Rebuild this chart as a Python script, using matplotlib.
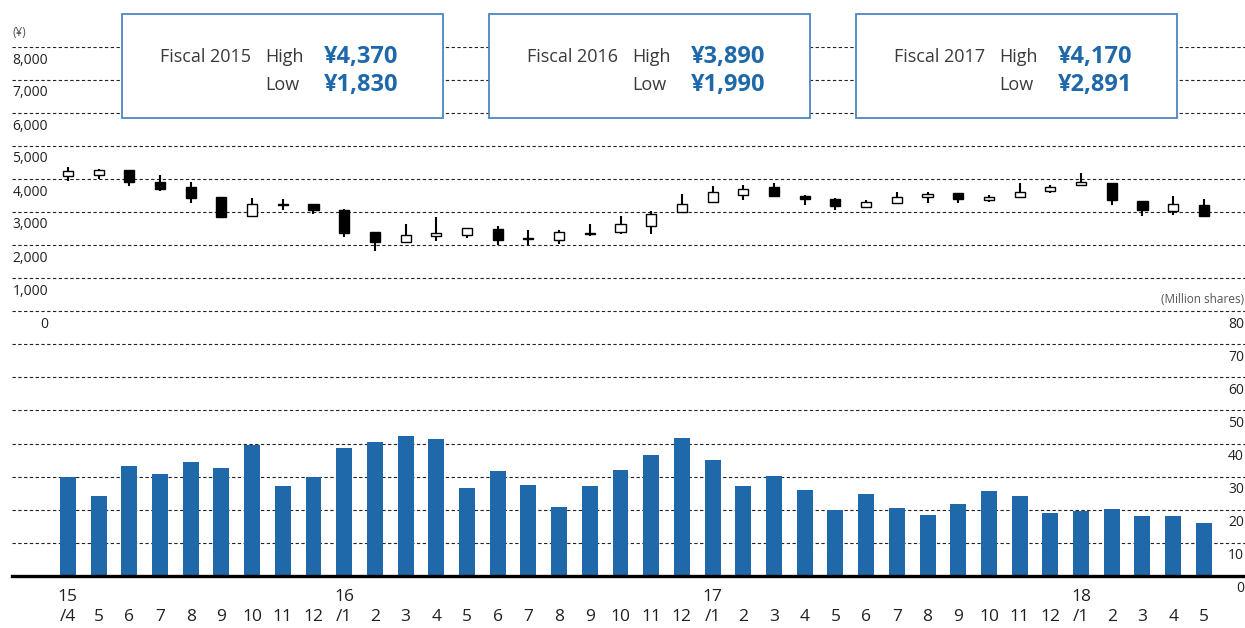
import matplotlib.pyplot as plt
from matplotlib.patches import Rectangle
from matplotlib.transforms import blended_transform_factory, ScaledTranslation
import numpy as np

plt.rcParams['font.family'] = ['Open Sans', 'DejaVu Sans']

# months 2015/4 - 2018/5
months = ['/4', '5', '6', '7', '8', '9', '10', '11', '12',
          '/1', '2', '3', '4', '5', '6', '7', '8', '9', '10', '11', '12',
          '/1', '2', '3', '4', '5', '6', '7', '8', '9', '10', '11', '12',
          '/1', '2', '3', '4', '5']
years = {0: '15', 9: '16', 21: '17', 33: '18'}

# stock price (yen)
open_ = [4090, 4110, 4260, 3900, 3750, 3440, 2884, 3220, 3236,
         3055, 2382, 2100, 2281, 2312, 2493, 2186, 2151, 2342, 2382, 2563, 3015,
         3296, 3508, 3749, 3487, 3407, 3166, 3286, 3457, 3578, 3377, 3467, 3638,
         3809, 3889, 3347, 3025, 3226]
high = [4370, 4300, 4260, 4130, 3920, 3460, 3437, 3407, 3256,
        3106, 2382, 2623, 2834, 2523, 2583, 2442, 2442, 2623, 2884, 3035, 3558,
        3799, 3829, 3890, 3528, 3427, 3367, 3618, 3598, 3578, 3528, 3889, 3829,
        4170, 3889, 3347, 3498, 3407]
low = [3930, 4000, 3780, 3630, 3280, 2850, 2880, 3075, 2935,
       2231, 1830, 2060, 2121, 2221, 1990, 2000, 2020, 2271, 2332, 2332, 3005,
       3296, 3377, 3487, 3206, 3055, 3156, 3276, 3266, 3266, 3296, 3437, 3568,
       3809, 3206, 2891, 2905, 2844]
close = [4230, 4270, 3910, 3710, 3410, 2860, 3256, 3232, 3055,
         2352, 2100, 2291, 2372, 2523, 2161, 2196, 2402, 2362, 2643, 2945, 3256,
         3608, 3709, 3487, 3407, 3176, 3307, 3447, 3548, 3397, 3457, 3608, 3759,
         3920, 3357, 3055, 3256, 2864]

# trading volume (million shares)
volume = [29.8, 24.1, 33.1, 30.7, 34.3, 32.5, 39.6, 27.1, 29.8,
          38.6, 40.4, 42.2, 41.3, 26.5, 31.6, 27.4, 20.8, 27.1, 31.9, 36.4, 41.6,
          34.9, 27.1, 30.1, 25.9, 19.9, 24.7, 20.5, 18.4, 21.7, 25.6, 24.1, 19.0,
          19.6, 20.2, 18.1, 18.1, 16.0]

fiscal = ['Fiscal 2015', 'Fiscal 2016', 'Fiscal 2017']
fy_high = ['¥4,370', '¥3,890', '¥4,170']
fy_low = ['¥1,830', '¥1,990', '¥2,891']

W, H = 1245, 628
fig = plt.figure(figsize=(W / 100, H / 100), dpi=100)

def px_axes(x0, y0, x1, y1):
    a = fig.add_axes([x0 / W, 1 - y1 / H, (x1 - x0) / W, (y1 - y0) / H])
    a.patch.set_visible(False)
    return a

ax_c = px_axes(12, 47, 1245, 311)
ax_v = px_axes(12, 311, 1245, 576)

x = np.arange(len(months))
xlim = (-1.82, 38.34)
grid_kw = dict(color='#222222', lw=0.8, linestyle=(0, (3, 2.2)))
label_col = '#231f20'

# candlesticks
o = np.array(open_); c = np.array(close)
ax_c.vlines(x, low, high, color='black', lw=1.5, zorder=2)
body_col = ['white' if cc >= oo else 'black' for oo, cc in zip(o, c)]
ax_c.bar(x, np.maximum(np.abs(c - o), 15), bottom=np.minimum(o, c), width=0.33,
         color=body_col, edgecolor='black', linewidth=1.0, zorder=3)
ax_c.set_xlim(*xlim)
ax_c.set_ylim(0, 8000)
for v in range(0, 8001, 1000):
    ax_c.axhline(v, zorder=1, **grid_kw)
ax_c.set_xticks([]); ax_c.set_yticks([])
for s in ax_c.spines.values():
    s.set_visible(False)

off = ScaledTranslation(0, -13 / 100, fig.dpi_scale_trans)
tr_c = blended_transform_factory(ax_c.transAxes, ax_c.transData) + off
for v in range(0, 8001, 1000):
    ax_c.text(36 / 1233, v, f'{v:,}', transform=tr_c, ha='right', va='center',
              fontsize=10, color=label_col, clip_on=False)
fig.text(12 / W, 1 - 33 / H, '(¥)', fontsize=8.5, color='#555555', va='center')

# volume bars
ax_v.bar(x, volume, width=0.52, color='#1f69aa', zorder=2)
ax_v.set_xlim(*xlim)
ax_v.set_ylim(0, 80)
for v in range(10, 81, 10):
    ax_v.axhline(v, zorder=1, **grid_kw)
ax_v.set_yticks([])
for s in ['top', 'left', 'right']:
    ax_v.spines[s].set_visible(False)
ax_v.spines['bottom'].set_linewidth(2.4)
ax_v.spines['bottom'].set_color('black')
ax_v.set_xticks(x)
ax_v.set_xticklabels([(years[i] if i in years else '') + '\n' + m for i, m in enumerate(months)],
                     fontsize=12.5, color=label_col, linespacing=1.28)
ax_v.tick_params(axis='x', length=0, pad=9.5)

tr_v = blended_transform_factory(ax_v.transAxes, ax_v.transData) + off
for v in range(0, 81, 10):
    ax_v.text(1232 / 1233, v, str(v), transform=tr_v, ha='right', va='center',
              fontsize=10, color=label_col, clip_on=False)
fig.text(1244 / W, 1 - 299 / H, '(Million shares)', fontsize=8.5, color='#555555',
         ha='right', va='center')

# fiscal high/low boxes
for i, bx in enumerate([122, 489, 856]):
    fig.add_artist(Rectangle((bx / W, 1 - 118 / H), 321 / W, 104 / H,
                             transform=fig.transFigure, facecolor='white',
                             edgecolor='#4b87c3', linewidth=1.3, zorder=5))
    y1, y2 = 1 - 57 / H, 1 - 85 / H
    fig.text((bx + 38) / W, y1, fiscal[i], fontsize=13, color='#3a3a3a', va='center', zorder=6)
    fig.text((bx + 143) / W, y1, 'High', fontsize=13, color='#3a3a3a', va='center', zorder=6)
    fig.text((bx + 143) / W, y2, 'Low', fontsize=13, color='#3a3a3a', va='center', zorder=6)
    fig.text((bx + 202) / W, y1, fy_high[i], fontsize=17, fontweight='bold',
             color='#1f69aa', va='center', zorder=6)
    fig.text((bx + 202) / W, y2, fy_low[i], fontsize=17, fontweight='bold',
             color='#1f69aa', va='center', zorder=6)

fig.savefig('out.png', dpi=100)
